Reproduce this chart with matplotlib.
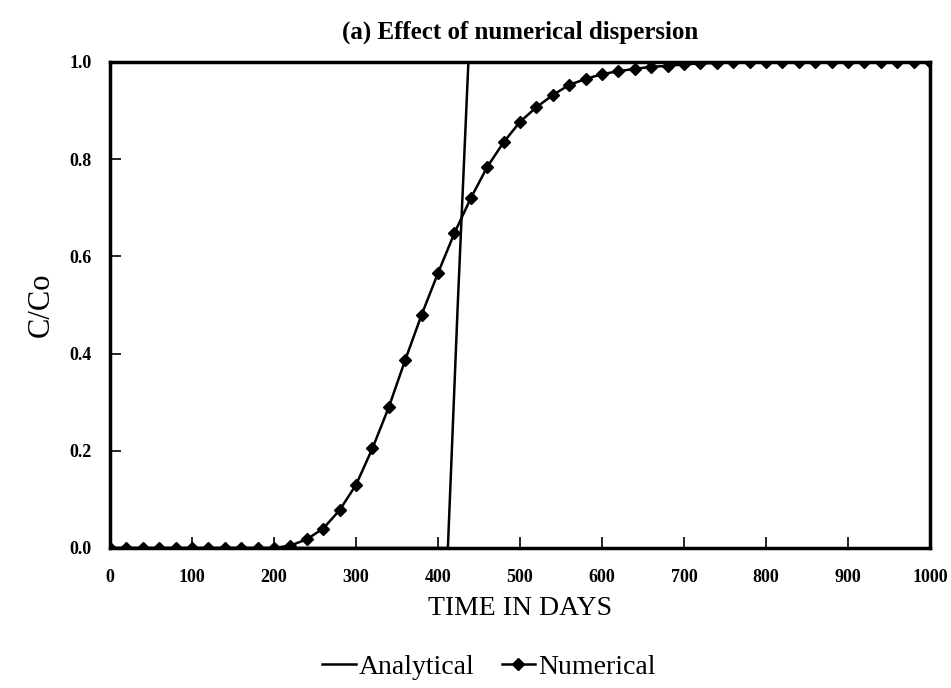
import matplotlib
matplotlib.use("Agg")
import matplotlib.pyplot as plt

plt.rcParams['font.family'] = ['Liberation Serif', 'DejaVu Serif']

num_days = [0, 20, 40, 60, 80, 100, 120, 140, 160, 180, 200, 220, 240, 260, 280,
            300, 320, 340, 360, 380, 400, 420, 440, 460, 480, 500, 520, 540, 560,
            580, 600, 620, 640, 660, 680, 700, 720, 740, 760, 780, 800, 820, 840,
            860, 880, 900, 920, 940, 960, 980, 1000]
num_conc = [0.0, 0.0, 0.0, 0.0, 0.0, 0.0, 0.0, 0.0, 0.0, 0.0, 0.0, 0.005, 0.018,
            0.04, 0.078, 0.13, 0.205, 0.29, 0.387, 0.48, 0.566, 0.648, 0.72, 0.784,
            0.835, 0.877, 0.907, 0.932, 0.953, 0.965, 0.975, 0.981, 0.986, 0.99,
            0.992, 0.995, 0.997, 0.998, 0.999, 1.0, 1.0, 1.0, 1.0, 1.0, 1.0, 1.0,
            1.0, 1.0, 1.0, 1.0, 1.0]

# Analytical solution (sharp front)
ana_days = [0, 412, 424, 437, 1000]
ana_conc = [0.0, 0.0, 0.5, 1.0, 1.0]

xticks = [0, 100, 200, 300, 400, 500, 600, 700, 800, 900, 1000]
yticks = [0.0, 0.2, 0.4, 0.6, 0.8, 1.0]

fig = plt.figure(figsize=(9.51, 6.88), dpi=100)
ax = fig.add_axes([0.1157, 0.2035, 0.8623, 0.7064])

ax.plot(ana_days, ana_conc, color='black', lw=1.8, label='Analytical')
ax.plot(num_days, num_conc, color='black', lw=1.8, marker='D', markersize=6,
        label='Numerical')

ax.set_xlim(0, 1000)
ax.set_ylim(0, 1.0)
ax.set_xticks(xticks)
ax.set_yticks(yticks)
ax.set_xticklabels([str(t) for t in xticks], fontsize=13, fontweight='bold')
ax.set_yticklabels([f"{t:.1f}" for t in yticks], fontsize=13, fontweight='bold')
ax.tick_params(direction='in', length=8, width=1.2, top=False, right=False)
ax.tick_params(axis='x', pad=15)
ax.tick_params(axis='y', pad=13)
for s in ax.spines.values():
    s.set_linewidth(2.5)

ax.set_xlabel('TIME IN DAYS', fontsize=20, labelpad=7)
ax.set_ylabel('C/Co', fontsize=22, labelpad=10)
ax.set_title('(a) Effect of numerical dispersion', fontsize=18, fontweight='bold',
             pad=17)

fig.legend(*ax.get_legend_handles_labels(), loc='center',
           bbox_to_anchor=(0.514, 0.03), ncol=2, frameon=False,
           fontsize=20, handlelength=1.2, handletextpad=0.1, columnspacing=1.0)

fig.savefig('out.png', dpi=100)
